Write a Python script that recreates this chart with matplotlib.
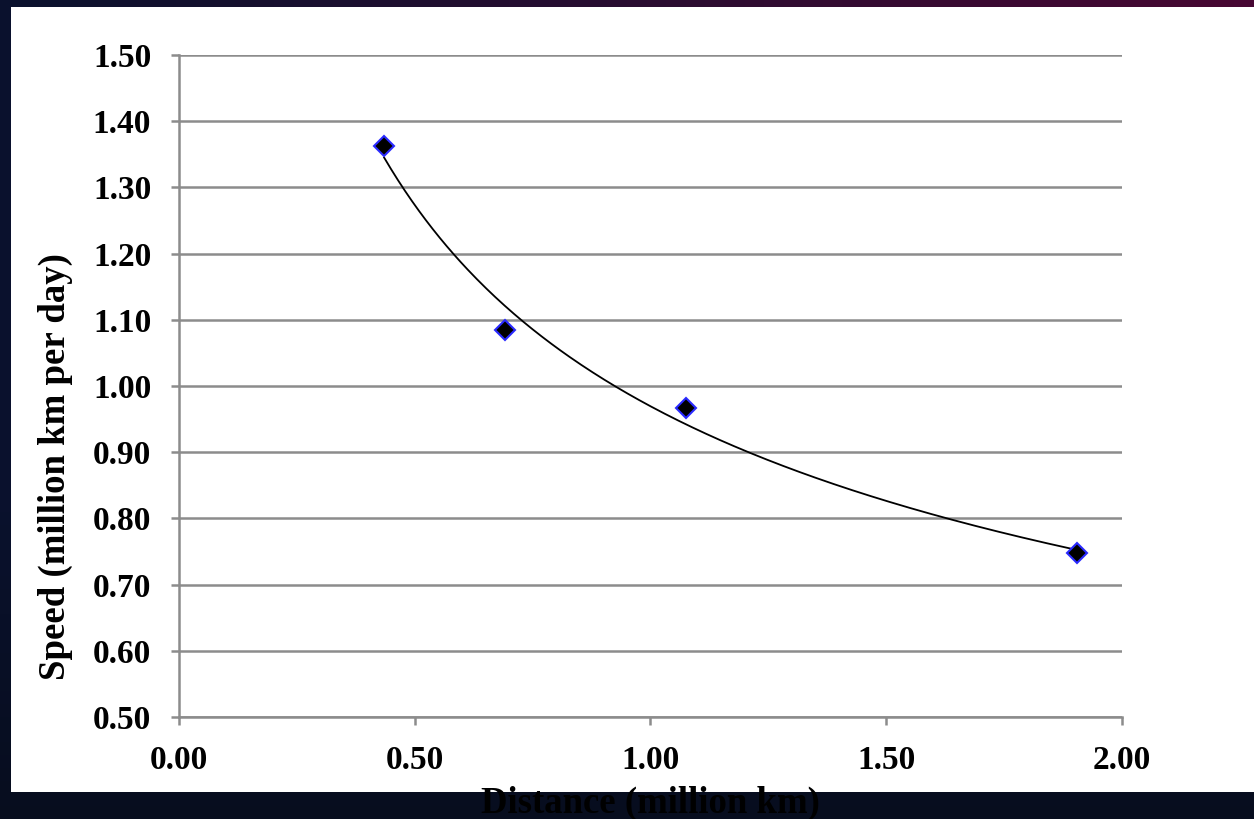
import matplotlib
matplotlib.use("Agg")
import matplotlib.pyplot as plt
import matplotlib.ticker as mticker
from matplotlib.patches import Rectangle
import numpy as np

# values
distance = [0.435, 0.691, 1.075, 1.905]   # million km
speed = [1.362, 1.085, 0.967, 0.748]      # million km per day

x_ticks = [0.00, 0.50, 1.00, 1.50, 2.00]
y_ticks = [0.50, 0.60, 0.70, 0.80, 0.90, 1.00, 1.10, 1.20, 1.30, 1.40, 1.50]

grid_grey = '#8c8c8c'
font = {'family': 'Liberation Serif', 'weight': 'bold'}

fig = plt.figure(figsize=(12.54, 8.19), dpi=100)

# dark "space" backdrop: navy on the left, purple towards the top right
bg = fig.add_axes([0, 0, 1, 1], zorder=-10)
bg.set_axis_off()
gx = np.linspace(0, 1, 64)
gy = np.linspace(0, 1, 64)
GX, GY = np.meshgrid(gx, gy)
navy = np.array([0.04, 0.07, 0.18])
purple = np.array([0.28, 0.03, 0.20])
dark = np.array([0.02, 0.04, 0.08])
w_p = np.clip(GX * (1 - GY) ** 3, 0, 1)[..., None]
w_d = np.clip(GY - 0.6, 0, 1)[..., None] * 1.5
img = navy * (1 - w_p) + purple * w_p
img = img * (1 - w_d) + dark * w_d
bg.imshow(np.clip(img, 0, 1), extent=[0, 1, 0, 1], origin='upper', aspect='auto')

# white chart panel
fig.patches.append(Rectangle((11 / 1254, 1 - 792 / 819), 1 - 11 / 1254, (792 - 7) / 819,
                             transform=fig.transFigure, facecolor='white',
                             edgecolor='none', zorder=-5))

ax = fig.add_axes([179 / 1254, 1 - 717 / 819, (1122 - 179) / 1254, (717 - 55) / 819])
ax.set_facecolor('white')

# power trend line (Excel-style y = a * x^b)
b, log_a = np.polyfit(np.log(distance), np.log(speed), 1)
xs = np.linspace(min(distance), max(distance), 300)
ax.plot(xs, np.exp(log_a) * xs ** b, color='black', lw=1.3, zorder=3)

ax.plot(distance, speed, linestyle='none', marker='D', markersize=10,
        markerfacecolor='black', markeredgecolor='#2a2aff', markeredgewidth=1.5,
        zorder=4)

ax.set_xlim(0, 2.0)
ax.set_ylim(0.5, 1.5)
ax.set_xticks(x_ticks)
ax.set_yticks(y_ticks)
ax.xaxis.set_major_formatter(mticker.FormatStrFormatter('%.2f'))
ax.yaxis.set_major_formatter(mticker.FormatStrFormatter('%.2f'))

ax.grid(axis='y', color=grid_grey, lw=1.8)
ax.set_axisbelow(True)
for side in ('top', 'right'):
    ax.spines[side].set_visible(False)
for side in ('left', 'bottom'):
    ax.spines[side].set_color(grid_grey)
    ax.spines[side].set_linewidth(1.8)

ax.tick_params(axis='both', direction='out', length=6, width=1.8, color=grid_grey,
               pad=14, labelsize=24)
for lab in ax.get_xticklabels() + ax.get_yticklabels():
    lab.set_fontfamily('Liberation Serif')
    lab.set_fontweight('bold')

ax.set_ylabel('Speed (million km per day)', fontsize=26.5, va='center', **font)
ax.yaxis.set_label_coords(-0.1315, 0.379)
ax.set_xlabel('Distance (million km)', fontsize=26.5, va='center', **font)
ax.xaxis.set_label_coords(0.5, -0.131)

fig.savefig('out.png', dpi=100)
